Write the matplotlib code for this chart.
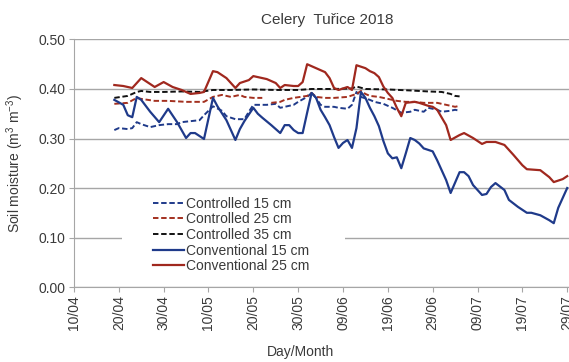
import pandas as pd
import matplotlib
matplotlib.use("Agg")
import matplotlib.pyplot as plt
from matplotlib.patches import Rectangle

plt.rcParams['font.family'] = ['Liberation Sans', 'DejaVu Sans']
plt.rcParams['mathtext.fontset'] = 'custom'
plt.rcParams['mathtext.rm'] = 'Liberation Sans'
plt.rcParams['mathtext.it'] = 'Liberation Sans:italic'

YEAR = 2018

# Soil moisture readings (m3 m-3), dates as dd/mm
ctrl15_dates = ["19/04", "20/04", "22/04", "23/04", "24/04", "25/04", "27/04", "29/04", "01/05", "03/05",
                "04/05", "06/05", "08/05", "09/05", "11/05", "13/05", "14/05", "16/05", "18/05", "19/05",
                "20/05", "23/05", "25/05", "26/05", "27/05", "29/05", "30/05", "01/06", "02/06", "03/06",
                "04/06", "05/06", "07/06", "08/06", "10/06", "11/06", "12/06", "13/06", "15/06", "16/06",
                "18/06", "20/06", "22/06", "24/06", "25/06", "27/06", "28/06", "30/06", "01/07", "03/07",
                "04/07", "05/07"]
ctrl15 = [0.317, 0.321, 0.319, 0.321, 0.333, 0.329, 0.323, 0.327, 0.329, 0.329,
          0.333, 0.335, 0.337, 0.347, 0.365, 0.356, 0.345, 0.339, 0.339, 0.354,
          0.368, 0.368, 0.370, 0.362, 0.364, 0.368, 0.374, 0.384, 0.392, 0.382,
          0.368, 0.364, 0.364, 0.362, 0.360, 0.368, 0.394, 0.384, 0.378, 0.374,
          0.370, 0.362, 0.352, 0.354, 0.358, 0.354, 0.362, 0.358, 0.354, 0.356,
          0.358, 0.356]

ctrl25_dates = ["19/04", "22/04", "24/04", "25/04", "28/04", "01/05", "05/05", "07/05", "09/05", "11/05",
                "13/05", "15/05", "17/05", "18/05", "20/05", "22/05", "23/05", "24/05", "26/05", "27/05",
                "29/05", "01/06", "02/06", "03/06", "05/06", "07/06", "10/06", "12/06", "13/06", "14/06",
                "15/06", "17/06", "18/06", "21/06", "23/06", "25/06", "27/06", "30/06", "02/07", "04/07",
                "05/07"]
ctrl25 = [0.370, 0.372, 0.382, 0.380, 0.376, 0.376, 0.374, 0.374, 0.374, 0.384,
          0.388, 0.384, 0.388, 0.384, 0.382, 0.382, None, 0.372, 0.374, 0.378,
          0.382, 0.386, 0.392, 0.384, 0.382, 0.382, 0.384, 0.390, 0.396, 0.390,
          0.386, 0.384, 0.382, 0.376, 0.374, 0.374, 0.372, 0.372, 0.368, 0.364,
          0.366]

ctrl35_dates = ["19/04", "22/04", "24/04", "25/04", "27/04", "30/04", "04/05", "08/05", "11/05", "15/05",
                "20/05", "25/05", "30/05", "02/06", "07/06", "11/06", "12/06", "14/06", "19/06", "24/06",
                "28/06", "01/07", "03/07", "04/07", "05/07"]
ctrl35 = [0.382, 0.386, 0.394, 0.396, 0.394, 0.394, 0.395, 0.394, 0.398, 0.398,
          0.399, 0.398, 0.398, 0.400, 0.400, 0.401, 0.405, 0.400, 0.399, 0.397,
          0.395, 0.394, 0.390, 0.386, 0.385]

conv15_dates = ["19/04", "21/04", "22/04", "23/04", "24/04", "25/04", "27/04", "29/04", "01/05", "03/05",
                "04/05", "05/05", "06/05", "07/05", "09/05", "11/05", "12/05", "14/05", "15/05", "16/05",
                "17/05", "18/05", "20/05", "21/05", "22/05", "24/05", "26/05", "27/05", "28/05", "29/05",
                "30/05", "31/05", "01/06", "02/06", "03/06", "04/06", "05/06", "06/06", "07/06", "08/06",
                "09/06", "10/06", "11/06", "12/06", "13/06", "14/06", "15/06", "16/06", "17/06", "18/06",
                "19/06", "20/06", "21/06", "22/06", "23/06", "24/06", "25/06", "26/06", "27/06", "29/06",
                "30/06", "02/07", "03/07", "05/07", "06/07", "07/07", "08/07", "10/07", "11/07", "12/07",
                "13/07", "15/07", "16/07", "18/07", "20/07", "21/07", "23/07", "25/07", "26/07", "27/07",
                "29/07"]
conv15 = [0.378, 0.368, 0.347, 0.343, 0.384, 0.378, 0.354, 0.333, 0.360, 0.333,
          0.317, 0.301, 0.311, 0.311, 0.299, 0.382, 0.365, 0.337, 0.317, 0.297,
          0.319, 0.335, 0.362, 0.350, 0.342, 0.327, 0.311, 0.327, 0.327, 0.317,
          0.311, 0.311, 0.352, 0.392, 0.382, 0.358, 0.343, 0.327, 0.303, 0.281,
          0.291, 0.297, 0.281, 0.321, 0.394, 0.382, 0.362, 0.345, 0.325, 0.295,
          0.270, 0.260, 0.262, 0.240, 0.270, 0.301, 0.297, 0.290, 0.280, 0.274,
          0.256, 0.216, 0.190, 0.232, 0.232, 0.224, 0.206, 0.186, 0.188, 0.202,
          0.210, 0.196, 0.176, 0.162, 0.150, 0.150, 0.145, 0.135, 0.129, 0.160,
          0.200]

conv25_dates = ["19/04", "21/04", "23/04", "25/04", "27/04", "28/04", "30/04", "02/05", "04/05", "06/05",
                "08/05", "09/05", "11/05", "12/05", "13/05", "14/05", "15/05", "16/05", "17/05", "19/05",
                "20/05", "22/05", "23/05", "25/05", "26/05", "27/05", "29/05", "30/05", "31/05", "01/06",
                "03/06", "05/06", "06/06", "07/06", "08/06", "10/06", "11/06", "12/06", "14/06", "15/06",
                "16/06", "17/06", "18/06", "19/06", "20/06", "21/06", "22/06", "23/06", "25/06", "26/06",
                "28/06", "29/06", "30/06", "02/07", "03/07", "05/07", "06/07", "08/07", "10/07", "11/07",
                "13/07", "15/07", "17/07", "19/07", "20/07", "23/07", "25/07", "26/07", "28/07", "29/07"]
conv25 = [0.408, 0.406, 0.402, 0.422, 0.410, 0.404, 0.414, 0.404, 0.398, 0.390,
          0.392, 0.394, 0.436, 0.434, 0.428, 0.422, 0.412, 0.402, 0.412, 0.418,
          0.426, 0.422, 0.420, 0.412, 0.402, 0.408, 0.406, 0.406, 0.414, 0.450,
          0.442, 0.434, 0.422, 0.402, 0.398, 0.404, 0.398, 0.448, 0.442, 0.436,
          0.432, 0.424, 0.405, 0.392, 0.382, 0.362, 0.345, 0.372, 0.374, 0.372,
          0.366, 0.364, 0.358, 0.327, 0.297, 0.307, 0.311, 0.301, 0.289, 0.293,
          0.293, 0.287, 0.267, 0.246, 0.238, 0.236, 0.222, 0.212, 0.218, 0.224]

tick_labels = ["10/04", "20/04", "30/04", "10/05", "20/05", "30/05",
               "09/06", "19/06", "29/06", "09/07", "19/07", "29/07"]
y_ticks = [0.0, 0.1, 0.2, 0.3, 0.4, 0.5]


def to_dates(days):
    return pd.to_datetime([f"{d}/{YEAR}" for d in days], format="%d/%m/%Y")


series = [
    ("Controlled 15 cm", ctrl15_dates, ctrl15, "#1F3A8A", "--"),
    ("Controlled 25 cm", ctrl25_dates, ctrl25, "#A3301F", "--"),
    ("Controlled 35 cm", ctrl35_dates, ctrl35, "#111111", "--"),
    ("Conventional 15 cm", conv15_dates, conv15, "#1F3A8A", "-"),
    ("Conventional 25 cm", conv25_dates, conv25, "#A0281E", "-"),
]

text_col = "#3A3A3A"
grid_col = "#A6A6A6"

fig = plt.figure(figsize=(5.69, 3.62), dpi=100)
ax = fig.add_axes([0.130, 0.207, 0.870, 0.684])

for name, dates, vals, col, ls in series:
    y = [float("nan") if v is None else v for v in vals]
    if ls == "--":
        ax.plot(to_dates(dates), y, color=col, lw=1.4, linestyle=(0, (2.8, 1.4)),
                label=name, zorder=3)
    else:
        ax.plot(to_dates(dates), y, color=col, lw=1.6, label=name, zorder=3)

ticks = to_dates(tick_labels)
ax.set_xticks(ticks)
ax.set_xticklabels(tick_labels, rotation=90, fontsize=10, color=text_col)
ax.set_xlim(ticks[0], ticks[0] + pd.Timedelta(days=110.4))

ax.set_ylim(0, 0.5)
ax.set_yticks(y_ticks)
ax.set_yticklabels([f"{v:.2f}" for v in y_ticks], fontsize=10, color=text_col)

ax.yaxis.grid(True, color=grid_col, lw=1.0)
ax.set_axisbelow(True)
for side in ["top", "right"]:
    ax.spines[side].set_visible(False)
for side in ["left", "bottom"]:
    ax.spines[side].set_color(grid_col)
ax.tick_params(axis="both", length=3.5, width=0.8, color=grid_col, pad=2.5)

# white patch behind the legend hides the 0.10 grid line
ax.add_patch(Rectangle((0.097, 0.02), 0.45, 0.364, transform=ax.transAxes,
                       facecolor="white", edgecolor="none", zorder=1))
ax.legend(loc="upper left", bbox_to_anchor=(0.160, 0.365), frameon=False,
          fontsize=10, handlelength=2.2, handletextpad=0.15, labelspacing=0.12,
          borderpad=0, borderaxespad=0, labelcolor=text_col)

ax.set_xlabel("Day/Month", fontsize=10, color=text_col)
ax.xaxis.set_label_coords(0.457, -0.232)
ax.set_ylabel("Soil moisture (m$^3$ m$^{-3}$)", fontsize=10, color=text_col)
ax.yaxis.set_label_coords(-0.096, 0.5)

fig.text(0.575, 0.945, "Celery  Tuřice 2018", ha="center", va="center",
         fontsize=11, color=text_col)

fig.savefig("out.png", dpi=100)
